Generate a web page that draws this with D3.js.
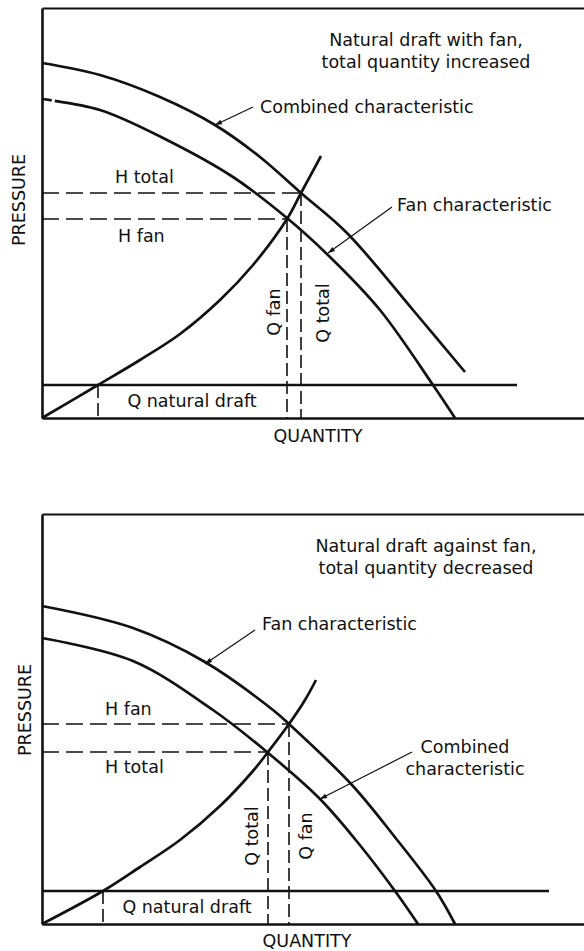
<!DOCTYPE html>
<html>
<head>
<meta charset="utf-8">
<script src="https://cdn.jsdelivr.net/npm/d3@7"></script>
<style>
  body { margin: 0; background: #fff; }
  text { font-family: "DejaVu Sans", sans-serif; font-size: 17.5px; fill: #111; }
</style>
</head>
<body>
<div id="plotContainer"></div>
<script>
// curves, [quantity, pressure] in arbitrary units
const topCombined = [[0,71],[11.6,68.6],[23.6,64.2],[34.6,58.6],[43.6,52.2],[51.8,45],[61,37],[74.2,21.6],[84.6,9.2]];
const topFan = [[0,63.8],[11.6,61.6],[25,55.6],[38.2,48.2],[49,40],[57.6,32.2],[67.6,21.6],[78.2,6.6],[82.6,0]];
const topSystem = [[0,0],[11.2,6.6],[19.6,11.6],[27.6,16.8],[35.6,23.6],[42.2,30.6],[49,39.8],[51.8,45],[55.8,52.4]];

const bottomFan = [[0,63.6],[18.2,59.2],[32.6,52.4],[46.2,42.8],[49.4,40],[62,27.8],[70.4,17.6],[78.8,6.6],[82.6,0]];
const bottomCombined = [[0,57.2],[18.2,52.6],[34.2,42.8],[45,34.4],[55.6,25],[63.4,16],[70.6,6.6],[75.2,0]];
const bottomSystem = [[0,0],[12.2,6.6],[19.6,11.4],[27.6,16.8],[35.6,23.6],[42.2,30.6],[45.2,34.4],[49.4,40],[52.6,44.8],[54.8,48.8]];

// operating points: [H upper, H lower, Q left, Q right, Q natural, natural draft pressure, end of draft line]
const topPoints = [45, 39.8, 49, 51.8, 11.2, 6.6, 95];
const bottomPoints = [40, 34.4, 45.2, 49.4, 12.2, 6.6, 101.4];

const topTitle = ["Natural draft with fan,", "total quantity increased"];
const bottomTitle = ["Natural draft against fan,", "total quantity decreased"];

// set the dimensions of each panel
const width = 542, height = 410;

const svg = d3.select("#plotContainer")
  .append("svg")
    .attr("width", 584)
    .attr("height", 951);

svg.append("defs").append("marker")
    .attr("id", "arrow")
    .attr("viewBox", "0 0 10 10")
    .attr("refX", 10).attr("refY", 5)
    .attr("markerUnits", "userSpaceOnUse")
    .attr("markerWidth", 10).attr("markerHeight", 7)
    .attr("orient", "auto")
  .append("path")
    .attr("d", "M0,1.5 L10,5 L0,8.5 Z")
    .attr("fill", "#111");

const x = d3.scaleLinear().domain([0, 108.4]).range([0, width]);
const y = d3.scaleLinear().domain([0, 82]).range([height, 0]);

const line = d3.line()
  .x(function(d) { return x(d[0]) })
  .y(function(d) { return y(d[1]) })
  .curve(d3.curveCatmullRom.alpha(0.5));

function drawPanel(top, outer, inner, system, pts, title, labels) {
  const g = svg.append("g").attr("transform", `translate(42,${top})`);

  // frame: left and bottom heavy, top lighter
  g.append("g").call(d3.axisLeft(y).ticks(0).tickSizeOuter(0))
    .select(".domain").attr("stroke", "#111").attr("stroke-width", 2.6);
  g.append("g").attr("transform", `translate(0,${height})`)
    .call(d3.axisBottom(x).ticks(0).tickSizeOuter(0))
    .select(".domain").attr("stroke", "#111").attr("stroke-width", 2.6);
  g.append("g").call(d3.axisTop(x).ticks(0).tickSizeOuter(0))
    .select(".domain").attr("stroke", "#111").attr("stroke-width", 1.8);

  const [hUp, hLow, qLeft, qRight, qNat, hNat, natEnd] = pts;

  // dashed construction lines
  const dash = g.append("g").attr("stroke", "#111").attr("stroke-width", 1.6).attr("fill", "none");
  [[hUp, qRight], [hLow, qLeft]].forEach(function(p) {
    dash.append("line")
      .attr("x1", x(0)).attr("x2", x(p[1]))
      .attr("y1", y(p[0])).attr("y2", y(p[0]))
      .attr("stroke-dasharray", "17,7");
  });
  [[qLeft, hLow], [qRight, hUp], [qNat, hNat]].forEach(function(p) {
    dash.append("line")
      .attr("x1", x(p[0])).attr("x2", x(p[0]))
      .attr("y1", y(p[1])).attr("y2", y(0))
      .attr("stroke-dasharray", "13,5");
  });

  // natural draft line
  g.append("line")
    .attr("x1", x(0)).attr("x2", x(natEnd))
    .attr("y1", y(hNat)).attr("y2", y(hNat))
    .attr("stroke", "#111").attr("stroke-width", 2.4);

  // characteristics
  [outer, inner, system].forEach(function(s, i) {
    g.append("path")
      .datum(s)
      .attr("d", line)
      .attr("fill", "none")
      .attr("stroke", "#111")
      .attr("stroke-width", 2.7)
      .attr("stroke-dasharray", (top < 100 && i === 1) ? "10,3,3000" : null);
  });

  // title
  const t = g.append("text").attr("text-anchor", "middle");
  title.forEach(function(s, i) {
    t.append("tspan").attr("x", x(76.8)).attr("y", y(74.4) + i * 21.5).text(s);
  });

  // labels and leaders
  labels.forEach(function(l) {
    if (l.leader) {
      g.append("line")
        .attr("x1", x(l.leader[0])).attr("y1", y(l.leader[1]))
        .attr("x2", x(l.leader[2])).attr("y2", y(l.leader[3]))
        .attr("stroke", "#111").attr("stroke-width", 1.2)
        .attr("marker-end", "url(#arrow)");
    }
    const txt = g.append("text")
      .attr("text-anchor", l.anchor || "start")
      .attr("transform", `translate(${x(l.q)},${y(l.h)})` + (l.rot ? " rotate(-90)" : ""));
    l.text.forEach(function(s, i) {
      txt.append("tspan").attr("x", 0).attr("dy", i ? 22 : 0).text(s);
    });
  });
}

drawPanel(8, topCombined, topFan, topSystem, topPoints, topTitle, [
  {text: ["Combined characteristic"], q: 43.6, h: 61, leader: [42.2, 62.2, 34.6, 58.6]},
  {text: ["Fan characteristic"], q: 71, h: 41.4, leader: [70, 42.2, 57.2, 33]},
  {text: ["H total"], q: 14.6, h: 47},
  {text: ["H fan"], q: 15.2, h: 35.2},
  {text: ["Q natural draft"], q: 30, h: 2.2, anchor: "middle"},
  {text: ["Q fan"], q: 47.6, h: 21.2, anchor: "middle", rot: true},
  {text: ["Q total"], q: 57.4, h: 21, anchor: "middle", rot: true},
  {text: ["PRESSURE"], q: -3.4, h: 43.6, anchor: "middle", rot: true},
  {text: ["QUANTITY"], q: 55.2, h: -4.8, anchor: "middle"}
]);

drawPanel(514, bottomFan, bottomCombined, bottomSystem, bottomPoints, bottomTitle, [
  {text: ["Fan characteristic"], q: 44, h: 58.8, leader: [42.6, 58.8, 32.6, 52]},
  {text: ["Combined", "characteristic"], q: 84.6, h: 34.2, anchor: "middle", leader: [74, 34.4, 55.6, 25]},
  {text: ["H fan"], q: 12.6, h: 41.8},
  {text: ["H total"], q: 12.6, h: 30.2},
  {text: ["Q natural draft"], q: 29, h: 2.2, anchor: "middle"},
  {text: ["Q total"], q: 43.2, h: 17.6, anchor: "middle", rot: true},
  {text: ["Q fan"], q: 54, h: 17.6, anchor: "middle", rot: true},
  {text: ["PRESSURE"], q: -2.2, h: 42.8, anchor: "middle", rot: true},
  {text: ["QUANTITY"], q: 53, h: -4.6, anchor: "middle"}
]);
</script>
</body>
</html>
